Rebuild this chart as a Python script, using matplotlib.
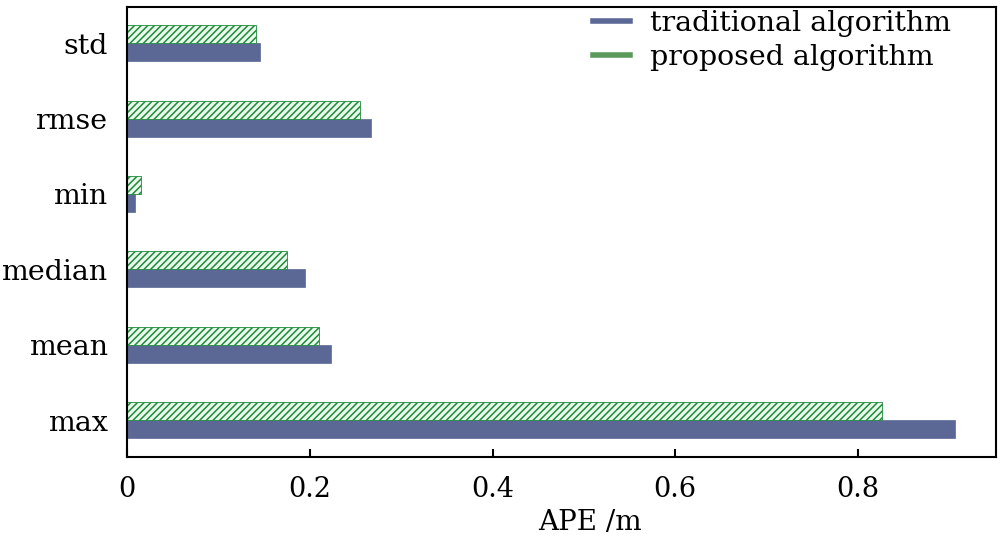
import matplotlib
matplotlib.use("Agg")
import matplotlib.pyplot as plt
import numpy as np
from matplotlib.lines import Line2D

categories = ["max", "mean", "median", "min", "rmse", "std"]
traditional = [0.906, 0.223, 0.195, 0.009, 0.267, 0.146]
proposed = [0.826, 0.210, 0.175, 0.015, 0.255, 0.141]
xticks = [0, 0.2, 0.4, 0.6, 0.8]
xticklabels = ["0", "0.2", "0.4", "0.6", "0.8"]

plt.rcParams['font.family'] = ['DejaVu Serif']
plt.rcParams['hatch.linewidth'] = 1.1
plt.rcParams['hatch.color'] = "#1f8a3c"

fig = plt.figure(figsize=(10, 5.46), dpi=100)
ax = fig.add_axes([0.127, 0.163, 0.869, 0.824])

y = np.arange(len(categories))
h = 0.24
blue = "#5b6895"
green = "#1f8a3c"

ax.barh(y - h / 2, traditional, height=h, color=blue, edgecolor=blue, linewidth=0.5)
ax.barh(y + h / 2, proposed, height=h, facecolor="#eafaea", edgecolor=green,
        hatch="/////", linewidth=0.6)

ax.set_xlim(0, 0.951)
ax.set_ylim(-0.49, 5.48)
ax.set_yticks(y)
ax.set_yticklabels(categories, fontsize=20.5)
ax.set_xticks(xticks)
ax.set_xticklabels(xticklabels, fontsize=19.5)
ax.tick_params(axis='x', direction='in', length=6, width=1.5, pad=14)
ax.tick_params(axis='y', length=0, pad=14)
for s in ax.spines.values():
    s.set_linewidth(1.5)
ax.set_xlabel("APE /m", fontsize=20)
ax.xaxis.set_label_coords(0.533, -0.115)

handles = [Line2D([], [], color=blue, lw=4),
           Line2D([], [], color="#5c9a5c", lw=4)]
ax.legend(handles, ["traditional algorithm", "proposed algorithm"],
          loc="upper right", frameon=False, fontsize=20.5, handlelength=1.3,
          handletextpad=0.7, labelspacing=0.25, borderaxespad=0.1,
          bbox_to_anchor=(0.965, 1.025))

fig.savefig("out.png", dpi=100)
